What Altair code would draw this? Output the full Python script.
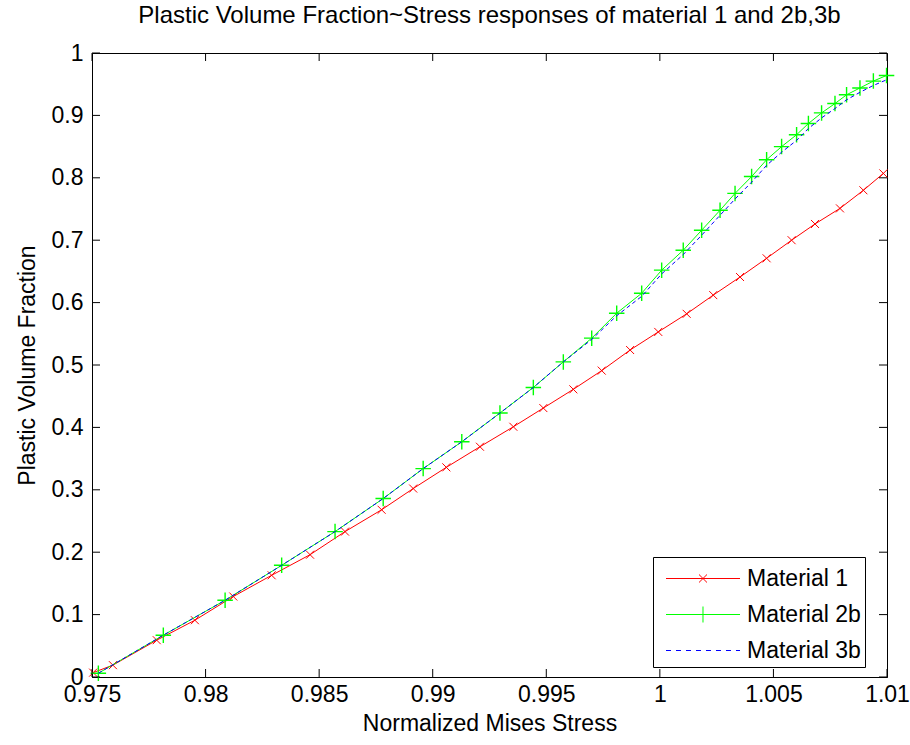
import altair as alt
import pandas as pd

# ---------------- data ----------------
series_names = ["Material 1", "Material 2b", "Material 3b"]
series_colors = ["#ff0000", "#00ff00", "#0000ff"]

x_ticks = [0.975, 0.98, 0.985, 0.99, 0.995, 1.0, 1.005, 1.01]
y_ticks = [0, 0.1, 0.2, 0.3, 0.4, 0.5, 0.6, 0.7, 0.8, 0.9, 1.0]

m1_x = [0.97505, 0.97592, 0.97785, 0.97953, 0.98122, 0.98291, 0.98460, 0.98614,
        0.98775, 0.98914, 0.99060, 0.99208, 0.99355, 0.99487, 0.99619, 0.99744,
        0.99869, 0.99993, 1.00118, 1.00235, 1.00353, 1.00470, 1.00580, 1.00683,
        1.00793, 1.00896, 1.00984]
m1_y = [0.007, 0.019, 0.059, 0.091, 0.129, 0.163, 0.196, 0.233,
        0.268, 0.302, 0.336, 0.369, 0.401, 0.431, 0.461, 0.491,
        0.524, 0.553, 0.582, 0.612, 0.641, 0.671, 0.700, 0.726,
        0.751, 0.780, 0.807]

m2_x = [0.97528, 0.97814, 0.98086, 0.98335, 0.98570, 0.98782, 0.98958, 0.99128,
        0.99296, 0.99443, 0.99575, 0.99700, 0.99810, 0.99920, 1.00008, 1.00103,
        1.00184, 1.00265, 1.00331, 1.00404, 1.00470, 1.00536, 1.00602, 1.00654,
        1.00712, 1.00771, 1.00822, 1.00881, 1.00940, 1.00998]
m2_y = [0.006, 0.067, 0.123, 0.179, 0.233, 0.286, 0.334, 0.377,
        0.423, 0.464, 0.505, 0.543, 0.583, 0.615, 0.652, 0.684,
        0.716, 0.748, 0.775, 0.802, 0.829, 0.850, 0.869, 0.887,
        0.904, 0.919, 0.933, 0.944, 0.955, 0.964]

m3_x = [0.97528, 0.97814, 0.98086, 0.98335, 0.98570, 0.98782, 0.98958, 0.99128,
        0.99296, 0.99443, 0.99575, 0.99700, 0.99810, 0.99920, 1.00008, 1.00103,
        1.00184, 1.00265, 1.00331, 1.00404, 1.00470, 1.00536, 1.00602, 1.00654,
        1.00712, 1.00771, 1.00822, 1.00881, 1.00940, 1.00998]
m3_y = [0.006, 0.067, 0.123, 0.179, 0.233, 0.286, 0.334, 0.377,
        0.423, 0.464, 0.505, 0.541, 0.579, 0.610, 0.646, 0.677,
        0.708, 0.740, 0.766, 0.793, 0.820, 0.841, 0.860, 0.879,
        0.896, 0.911, 0.925, 0.937, 0.948, 0.957]

# ---------------- tables ----------------
rows = []
for name, xs, ys in zip(series_names, [m1_x, m2_x, m3_x], [m1_y, m2_y, m3_y]):
    for i, (xv, yv) in enumerate(zip(xs, ys)):
        rows.append({"Material": name, "x": xv, "y": yv, "i": i})
df = pd.DataFrame(rows)
xt_df = pd.DataFrame({"x": x_ticks})
yt_df = pd.DataFrame({"y": y_ticks})

# ---------------- style ----------------
W, H = 795, 624
FONT = "Liberation Sans"
FS = 23
TICK = 8

# legend symbol paths (unit = sqrt(size)/2 px)
def seg(x0, y0, x1, y1):
    return f"M {x0:.3f} {y0:.3f} L {x1:.3f} {y1:.3f} "

L0, L1, C = -0.5, 3.853, 1.676
p1 = seg(L0, 0, L1, 0) + seg(C - 0.235, -0.235, C + 0.235, 0.235) + seg(C - 0.235, 0.235, C + 0.235, -0.235)
p2 = seg(L0, 0, L1, 0) + seg(C, -0.47, C, 0.47)
p3 = ""
k = 0
while L0 + k * 0.588 < L1:
    s = L0 + k * 0.588
    p3 += seg(s, 0, min(s + 0.294, L1), 0)
    k += 1
legend_paths = [p1.strip(), p2.strip(), p3.strip()]

axis_style = dict(grid=False, ticks=False, labelFlush=False, labelOverlap=False,
                  labelFont=FONT, labelFontSize=FS, labelColor="black",
                  titleFont=FONT, titleFontSize=FS, titleColor="black",
                  titleFontWeight="normal", domainColor="black", domainWidth=1)
x_enc = alt.X("x:Q", scale=alt.Scale(domain=[0.975, 1.01], nice=False, zero=False),
              axis=alt.Axis(values=x_ticks, format="~g", title="Normalized Mises Stress",
                            labelPadding=6, titlePadding=6, **axis_style))
y_enc = alt.Y("y:Q", scale=alt.Scale(domain=[0, 1], nice=False, zero=False),
              axis=alt.Axis(values=y_ticks, format="~g", title="Plastic Volume Fraction",
                            labelPadding=9, titlePadding=12, **axis_style))

base = alt.Chart(df)

red_line = base.transform_filter(alt.datum.Material == "Material 1").mark_line(
    color="#ff0000", strokeWidth=1, clip=False).encode(x=x_enc, y=y_enc, order="i:Q")
red_pts = base.transform_filter(alt.datum.Material == "Material 1").mark_point(
    shape="M -1 -1 L 1 1 M -1 1 L 1 -1", size=64, filled=False, color="#ff0000",
    strokeWidth=1, opacity=1, clip=False).encode(x="x:Q", y="y:Q")
green_line = base.transform_filter(alt.datum.Material == "Material 2b").mark_line(
    color="#00ff00", strokeWidth=1, clip=False).encode(x="x:Q", y="y:Q", order="i:Q")
green_pts = base.transform_filter(alt.datum.Material == "Material 2b").mark_point(
    shape="M -1 0 L 1 0 M 0 -1 L 0 1", size=240, filled=False, color="#00ff00",
    strokeWidth=1.4, opacity=1, clip=False).encode(x="x:Q", y="y:Q")
blue_line = base.transform_filter(alt.datum.Material == "Material 3b").mark_line(
    color="#0000ff", strokeWidth=1, strokeDash=[4, 3], clip=False).encode(
    x="x:Q", y="y:Q", order="i:Q")

leg = alt.Legend(title=None, orient="none", legendX=561, legendY=504,
                 fillColor="white", strokeColor="black", padding=4, cornerRadius=0,
                 rowPadding=6, labelFont=FONT, labelFontSize=FS, labelColor="black",
                 labelOffset=55, symbolSize=1156, symbolStrokeWidth=1, labelLimit=0,
                 symbolOpacity=1, symbolFillColor="transparent")
legend_layer = base.mark_point(opacity=0, filled=False, size=1156, strokeWidth=1).encode(
    x="x:Q", y="y:Q",
    color=alt.Color("Material:N", scale=alt.Scale(domain=series_names, range=series_colors), legend=leg),
    shape=alt.Shape("Material:N", scale=alt.Scale(domain=series_names, range=legend_paths), legend=leg),
)

tk = dict(color="black", strokeWidth=1)
bottom_ticks = alt.Chart(xt_df).mark_rule(**tk).encode(x="x:Q", y=alt.value(H), y2=alt.value(H - TICK))
top_ticks = alt.Chart(xt_df).mark_rule(**tk).encode(x="x:Q", y=alt.value(0), y2=alt.value(TICK))
left_ticks = alt.Chart(yt_df).mark_rule(**tk).encode(y="y:Q", x=alt.value(0), x2=alt.value(TICK))
right_ticks = alt.Chart(yt_df).mark_rule(**tk).encode(y="y:Q", x=alt.value(W - TICK), x2=alt.value(W))

chart = alt.layer(
    red_line, red_pts, green_line, green_pts, blue_line, legend_layer,
    bottom_ticks, top_ticks, left_ticks, right_ticks,
).properties(
    width=W, height=H,
    background="white",
    title=alt.TitleParams("Plastic Volume Fraction~Stress responses of material 1 and 2b,3b",
                          font=FONT, fontSize=24, fontWeight="normal", color="black",
                          anchor="middle", offset=14),
    autosize=alt.AutoSizeParams(type="none"),
    padding={"left": 92, "top": 53, "right": 23, "bottom": 68},
).configure_view(stroke="black", strokeWidth=1)

chart.save("out.html", embed_options={"renderer": "svg", "actions": False})
